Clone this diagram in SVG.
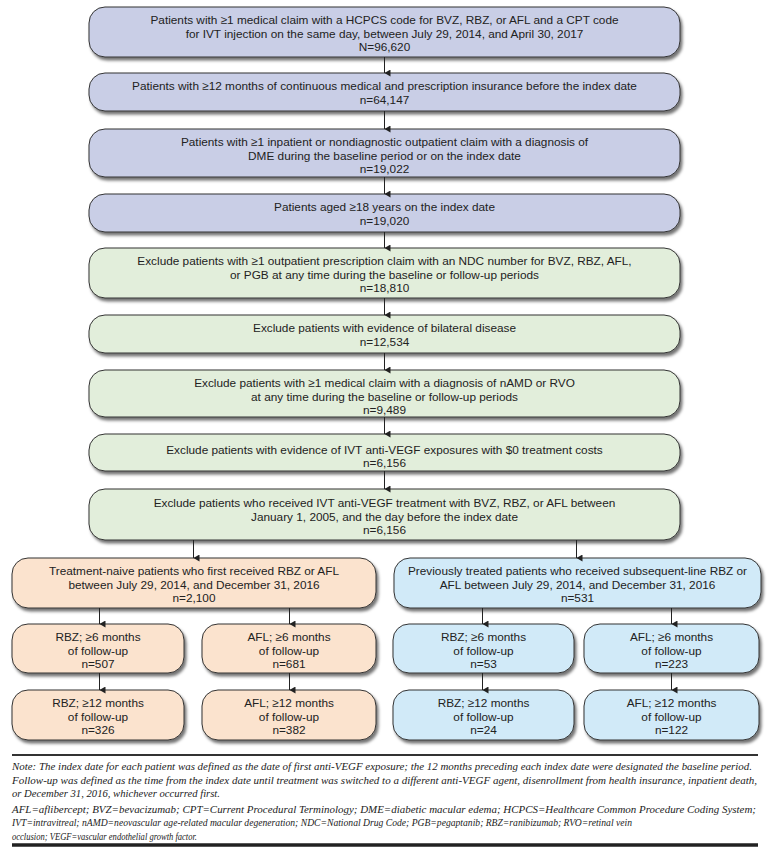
<svg xmlns="http://www.w3.org/2000/svg" width="772" height="857" viewBox="0 0 772 857">
<defs>
<filter id="sh" x="-5%" y="-20%" width="112%" height="150%">
<feDropShadow dx="2" dy="3" stdDeviation="1.8" flood-color="#000" flood-opacity="0.55"/>
</filter>
<marker id="ah" markerWidth="7" markerHeight="7" refX="3.5" refY="6" orient="auto" markerUnits="userSpaceOnUse" viewBox="0 0 7 7">
<path d="M0,0 L7,0 L3.5,6 Z" fill="#222"/>
</marker>
</defs>
<style>
.bx{stroke:#333;stroke-width:1;filter:url(#sh)}
.p{fill:#c9cee6}
.g{fill:#e2eedb}
.o{fill:#fbe3ce}
.b{fill:#d1eaf8}
.t{font-family:"Liberation Sans",Arial,sans-serif;font-size:11.8px;fill:#222;text-anchor:middle}
.n{font-family:"Liberation Serif","Times New Roman",serif;font-style:italic;font-size:10.4px;fill:#222}
.c{stroke:#222;stroke-width:1;fill:none;marker-end:url(#ah)}
</style>
<rect width="772" height="857" fill="#fff"/>

<g id="n1"><rect class="bx p" x="89" y="7" width="591" height="50" rx="16"/>
<text class="t" x="384.5" y="24">Patients with ≥1 medical claim with a HCPCS code for BVZ, RBZ, or AFL and a CPT code</text>
<text class="t" x="384.5" y="37.5">for IVT injection on the same day, between July 29, 2014, and April 30, 2017</text>
<text class="t" x="384.5" y="51">N=96,620</text></g>

<g id="n2"><rect class="bx p" x="89" y="73" width="591" height="38" rx="16"/>
<text class="t" x="384.5" y="90">Patients with ≥12 months of continuous medical and prescription insurance before the index date</text>
<text class="t" x="384.5" y="103.5">n=64,147</text></g>

<g id="n3"><rect class="bx p" x="89" y="129" width="591" height="48" rx="16"/>
<text class="t" x="384.5" y="146">Patients with ≥1 inpatient or nondiagnostic outpatient claim with a diagnosis of</text>
<text class="t" x="384.5" y="159.5">DME during the baseline period or on the index date</text>
<text class="t" x="384.5" y="173">n=19,022</text></g>

<g id="n4"><rect class="bx p" x="89" y="194" width="591" height="38" rx="16"/>
<text class="t" x="384.5" y="211">Patients aged ≥18 years on the index date</text>
<text class="t" x="384.5" y="224.5">n=19,020</text></g>

<g id="n5"><rect class="bx g" x="89" y="248" width="591" height="50" rx="16"/>
<text class="t" x="384.5" y="265">Exclude patients with ≥1 outpatient prescription claim with an NDC number for BVZ, RBZ, AFL,</text>
<text class="t" x="384.5" y="278.5">or PGB at any time during the baseline or follow-up periods</text>
<text class="t" x="384.5" y="292">n=18,810</text></g>

<g id="n6"><rect class="bx g" x="89" y="315" width="591" height="38" rx="16"/>
<text class="t" x="384.5" y="332">Exclude patients with evidence of bilateral disease</text>
<text class="t" x="384.5" y="345.5">n=12,534</text></g>

<g id="n7"><rect class="bx g" x="89" y="370" width="591" height="47" rx="16"/>
<text class="t" x="384.5" y="387">Exclude patients with ≥1 medical claim with a diagnosis of nAMD or RVO</text>
<text class="t" x="384.5" y="400.5">at any time during the baseline or follow-up periods</text>
<text class="t" x="384.5" y="414">n=9,489</text></g>

<g id="n8"><rect class="bx g" x="89" y="434" width="591" height="37" rx="16"/>
<text class="t" x="384.5" y="454">Exclude patients with evidence of IVT anti-VEGF exposures with $0 treatment costs</text>
<text class="t" x="384.5" y="467">n=6,156</text></g>

<g id="n9"><rect class="bx g" x="89" y="489" width="591" height="51" rx="16"/>
<text class="t" x="384.5" y="507">Exclude patients who received IVT anti-VEGF treatment with BVZ, RBZ, or AFL between</text>
<text class="t" x="384.5" y="520.5">January 1, 2005, and the day before the index date</text>
<text class="t" x="384.5" y="534">n=6,156</text></g>

<g id="n10"><rect class="bx o" x="12" y="558" width="364" height="50" rx="16"/>
<text class="t" x="194" y="575">Treatment-naive patients who first received RBZ or AFL</text>
<text class="t" x="194" y="588.5">between July 29, 2014, and December 31, 2016</text>
<text class="t" x="194" y="602">n=2,100</text></g>

<g id="n11"><rect class="bx b" x="394" y="558" width="367" height="50" rx="16"/>
<text class="t" x="577.5" y="575">Previously treated patients who received subsequent-line RBZ or</text>
<text class="t" x="577.5" y="588.5">AFL between July 29, 2014, and December 31, 2016</text>
<text class="t" x="577.5" y="602">n=531</text></g>

<g id="n12"><rect class="bx o" x="12" y="624" width="172" height="49" rx="16"/>
<text class="t" x="98" y="641">RBZ; ≥6 months</text>
<text class="t" x="98" y="654.5">of follow-up</text>
<text class="t" x="98" y="668">n=507</text></g>

<g id="n13"><rect class="bx o" x="202" y="624" width="174" height="49" rx="16"/>
<text class="t" x="289" y="641">AFL; ≥6 months</text>
<text class="t" x="289" y="654.5">of follow-up</text>
<text class="t" x="289" y="668">n=681</text></g>

<g id="n14"><rect class="bx b" x="393" y="624" width="181" height="49" rx="16"/>
<text class="t" x="483.5" y="641">RBZ; ≥6 months</text>
<text class="t" x="483.5" y="654.5">of follow-up</text>
<text class="t" x="483.5" y="668">n=53</text></g>

<g id="n15"><rect class="bx b" x="584" y="624" width="175" height="49" rx="16"/>
<text class="t" x="671.5" y="641">AFL; ≥6 months</text>
<text class="t" x="671.5" y="654.5">of follow-up</text>
<text class="t" x="671.5" y="668">n=223</text></g>

<g id="n16"><rect class="bx o" x="12" y="690" width="172" height="50" rx="16"/>
<text class="t" x="98" y="707">RBZ; ≥12 months</text>
<text class="t" x="98" y="720.5">of follow-up</text>
<text class="t" x="98" y="734">n=326</text></g>

<g id="n17"><rect class="bx o" x="202" y="690" width="174" height="50" rx="16"/>
<text class="t" x="289" y="707">AFL; ≥12 months</text>
<text class="t" x="289" y="720.5">of follow-up</text>
<text class="t" x="289" y="734">n=382</text></g>

<g id="n18"><rect class="bx b" x="393" y="690" width="181" height="50" rx="16"/>
<text class="t" x="483.5" y="707">RBZ; ≥12 months</text>
<text class="t" x="483.5" y="720.5">of follow-up</text>
<text class="t" x="483.5" y="734">n=24</text></g>

<g id="n19"><rect class="bx b" x="584" y="690" width="175" height="50" rx="16"/>
<text class="t" x="671.5" y="707">AFL; ≥12 months</text>
<text class="t" x="671.5" y="720.5">of follow-up</text>
<text class="t" x="671.5" y="734">n=122</text></g>

<g id="connectors">
<line class="c" x1="384.5" y1="57" x2="384.5" y2="73"/>
<line class="c" x1="384.5" y1="111" x2="384.5" y2="129"/>
<line class="c" x1="384.5" y1="177" x2="384.5" y2="194"/>
<line class="c" x1="384.5" y1="232" x2="384.5" y2="248"/>
<line class="c" x1="384.5" y1="298" x2="384.5" y2="315"/>
<line class="c" x1="384.5" y1="353" x2="384.5" y2="370"/>
<line class="c" x1="384.5" y1="417" x2="384.5" y2="434"/>
<line class="c" x1="384.5" y1="471" x2="384.5" y2="489"/>
<line class="c" x1="193.5" y1="540" x2="193.5" y2="558"/>
<line class="c" x1="576.5" y1="540" x2="576.5" y2="558"/>
<line class="c" x1="99.5" y1="608" x2="99.5" y2="624"/>
<line class="c" x1="289.5" y1="608" x2="289.5" y2="624"/>
<line class="c" x1="482.5" y1="608" x2="482.5" y2="624"/>
<line class="c" x1="671.5" y1="608" x2="671.5" y2="624"/>
<line class="c" x1="99.5" y1="673" x2="99.5" y2="690"/>
<line class="c" x1="289.5" y1="673" x2="289.5" y2="690"/>
<line class="c" x1="482.5" y1="673" x2="482.5" y2="690"/>
<line class="c" x1="671.5" y1="673" x2="671.5" y2="690"/>
</g>

<g id="note">
<line x1="12" y1="755" x2="758" y2="755" stroke="#333" stroke-width="2"/>
<text class="n" x="12" y="770" textLength="740" lengthAdjust="spacingAndGlyphs">Note: The index date for each patient was defined as the date of first anti-VEGF exposure; the 12 months preceding each index date were designated the baseline period.</text>
<text class="n" x="12" y="783.5" textLength="745" lengthAdjust="spacingAndGlyphs">Follow-up was defined as the time from the index date until treatment was switched to a different anti-VEGF agent, disenrollment from health insurance, inpatient death,</text>
<text class="n" x="12" y="797" textLength="208" lengthAdjust="spacingAndGlyphs">or December 31, 2016, whichever occurred first.</text>
<text class="n" x="12" y="812.5" textLength="744" lengthAdjust="spacingAndGlyphs">AFL=aflibercept; BVZ=bevacizumab; CPT=Current Procedural Terminology; DME=diabetic macular edema; HCPCS=Healthcare Common Procedure Coding System;</text>
<text class="n" x="12" y="826" textLength="620" lengthAdjust="spacingAndGlyphs">IVT=intravitreal; nAMD=neovascular age-related macular degeneration; NDC=National Drug Code; PGB=pegaptanib; RBZ=ranibizumab; RVO=retinal vein</text>
<text class="n" x="12" y="839.5" textLength="185" lengthAdjust="spacingAndGlyphs">occlusion; VEGF=vascular endothelial growth factor.</text>
<line x1="12" y1="845" x2="758" y2="845" stroke="#222" stroke-width="3.5"/>
</g>
</svg>
